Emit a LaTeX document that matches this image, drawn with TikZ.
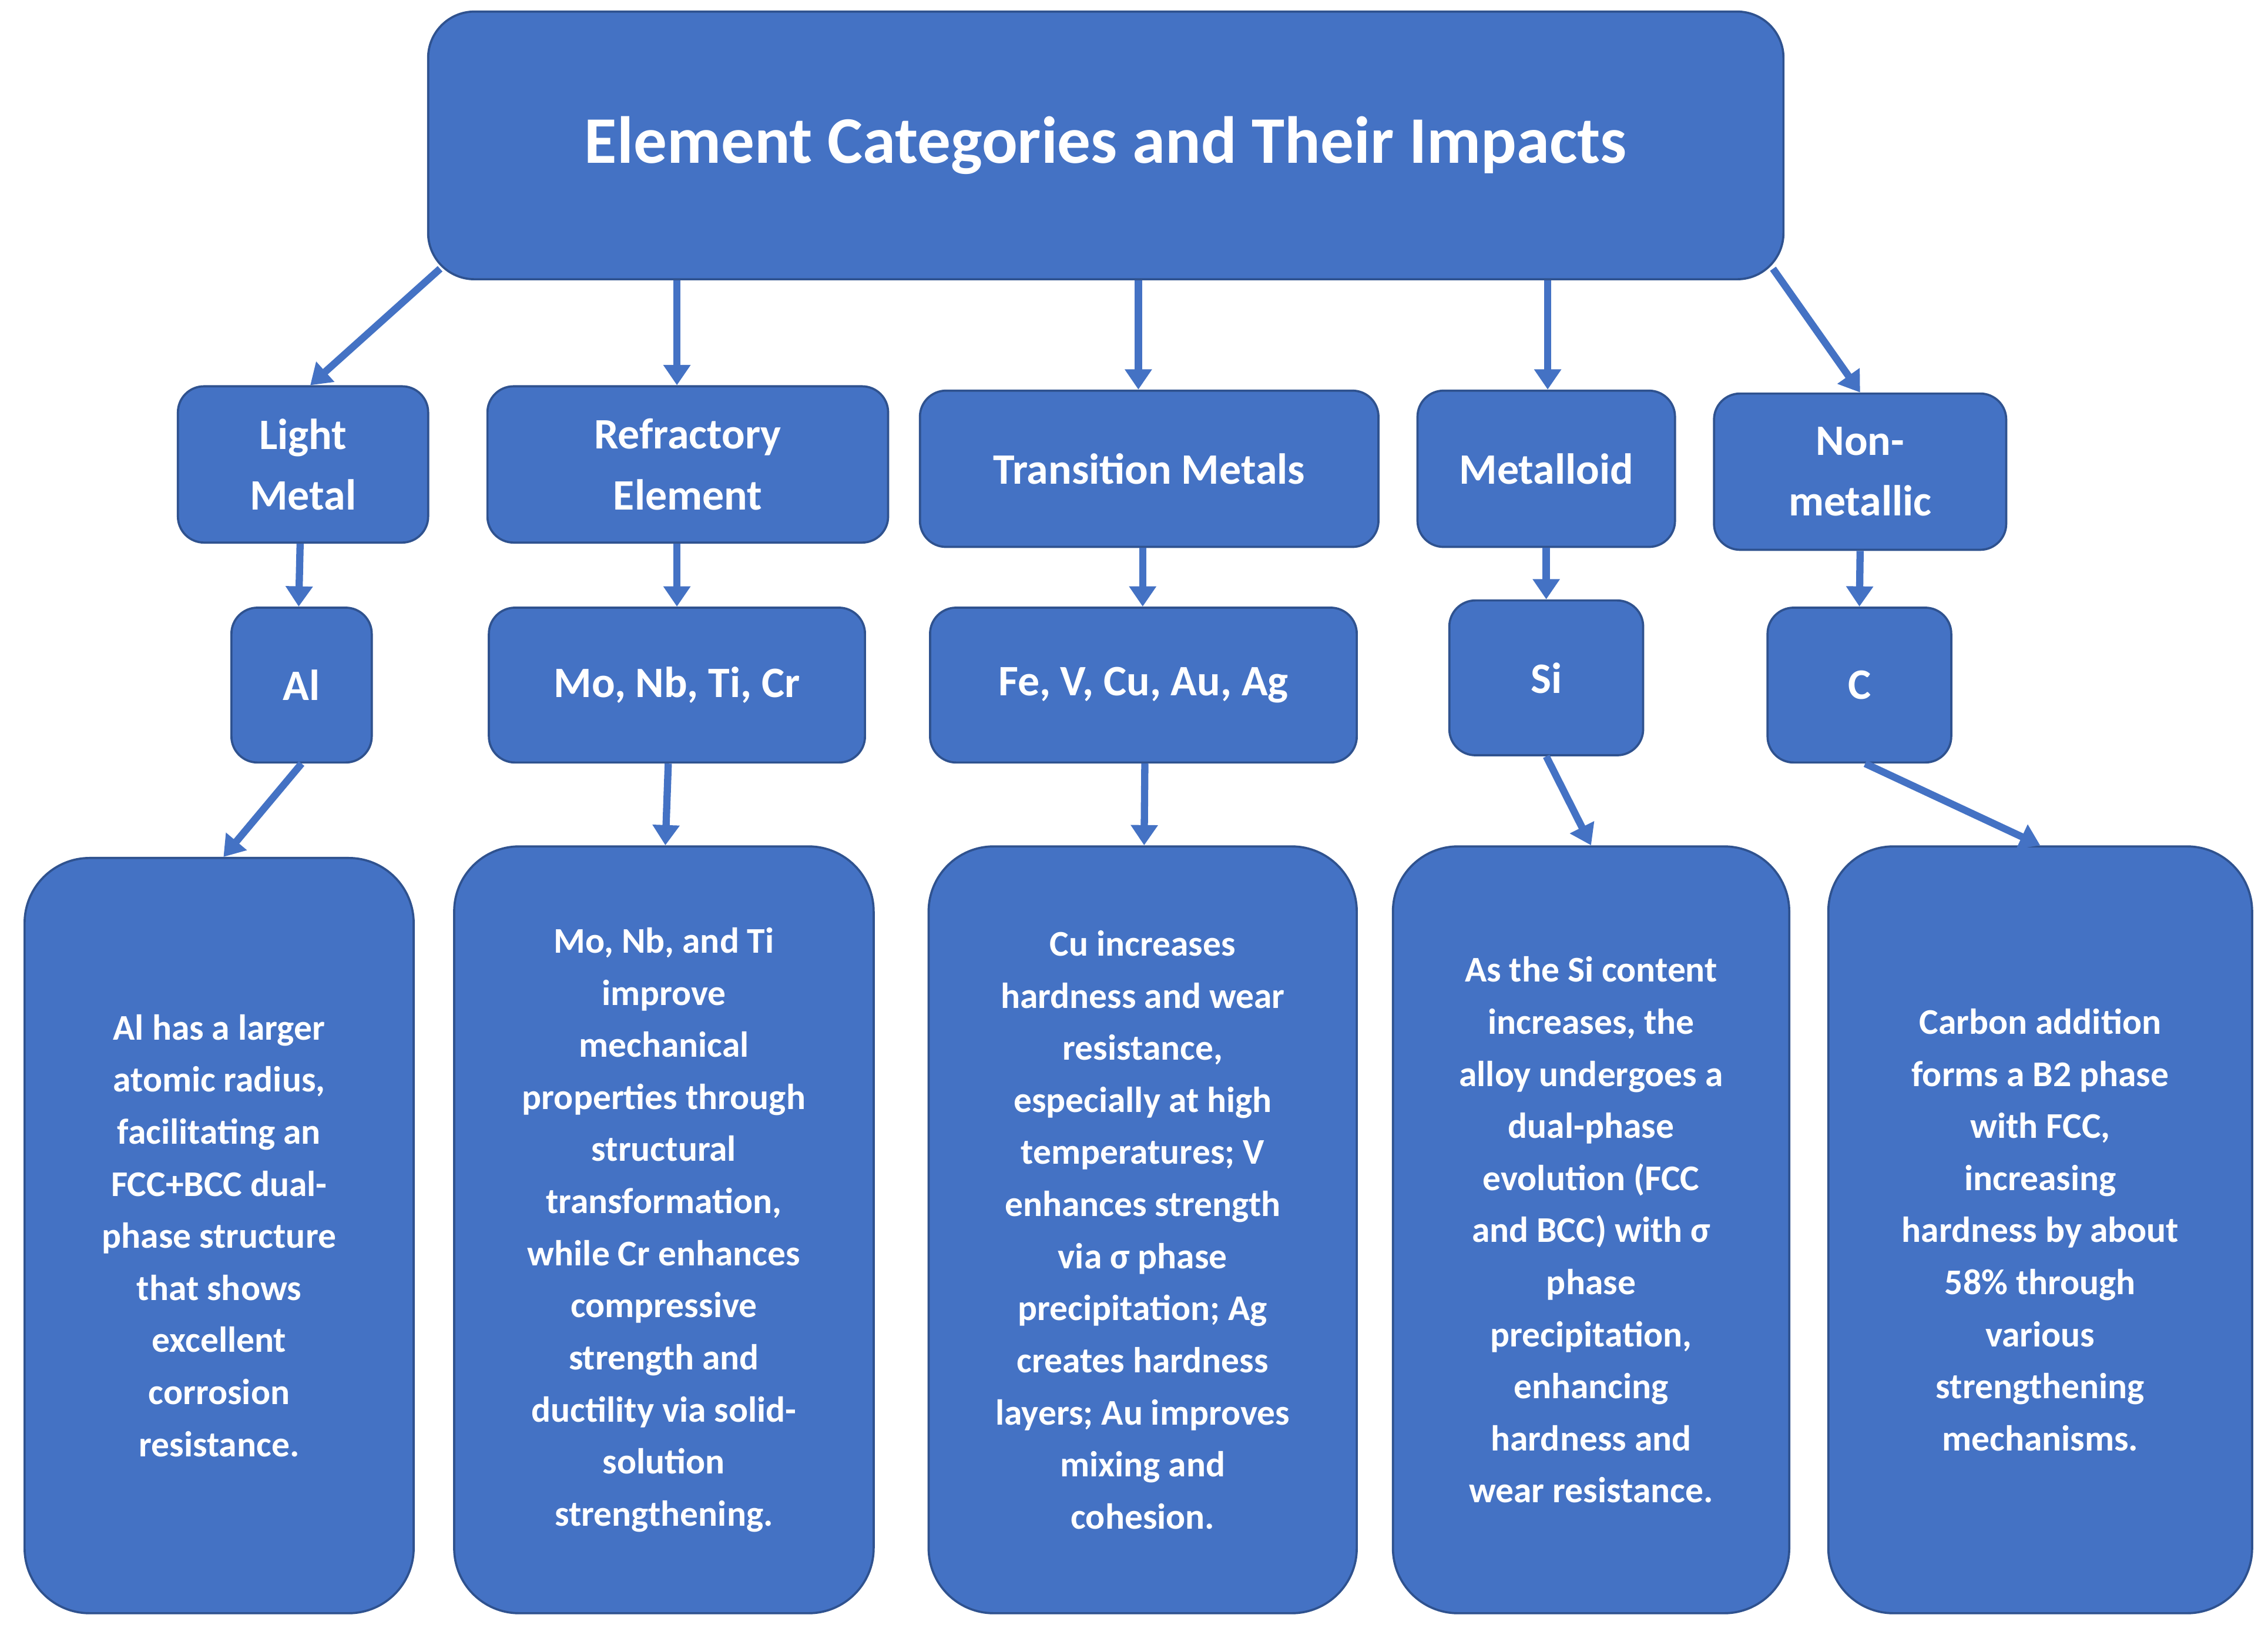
\documentclass[tikz,border=0pt]{standalone}
\usepackage{fontspec}
\setmainfont{Carlito}
\usetikzlibrary{arrows.meta}
\definecolor{bfill}{HTML}{4472C4}
\definecolor{bline}{HTML}{2F528F}
\begin{document}
\begin{tikzpicture}[x=1pt,y=1pt,
 box/.style={draw=bline,line width=1.5pt,fill=bfill,text=white,font=\bfseries,align=center,inner sep=0pt},
 mid/.style={box,rounded corners=18pt,font=\fontsize{30}{42}\selectfont\bfseries},
 low/.style={box,rounded corners=45pt,font=\fontsize{25}{36}\selectfont\bfseries},
 arr/.style={draw=bfill,line width=5pt,-{Triangle[length=14pt,width=18pt]}}]
\useasboundingbox (0,0) rectangle (1568,-1125);
\node[box,rounded corners=32pt,minimum width=937pt,minimum height=185pt,font=\fontsize{46}{52}\selectfont\bfseries] (title) at (764.5,-100.5) {Element Categories and Their Impacts};
\node[mid,minimum width=173pt,minimum height=108pt] (lm) at (209.5,-321) {Light\\Metal};
\node[mid,minimum width=277pt,minimum height=108pt] (re) at (475.5,-321) {Refractory\\Element};
\node[mid,minimum width=317pt,minimum height=108pt] (tm) at (794.5,-324) {Transition Metals};
\node[mid,minimum width=178pt,minimum height=108pt] (me) at (1069,-324) {Metalloid};
\node[mid,minimum width=202pt,minimum height=108pt] (nm) at (1286,-326) {Non-\\metallic};
\node[mid,minimum width=97pt,minimum height=107pt] (al) at (208.5,-473.5) {Al};
\node[mid,minimum width=260pt,minimum height=107pt] (mo) at (468,-473.5) {Mo, Nb, Ti, Cr};
\node[mid,minimum width=295pt,minimum height=107pt] (fe) at (790.5,-473.5) {Fe, V, Cu, Au, Ag};
\node[mid,minimum width=134pt,minimum height=107pt] (si) at (1069,-468.5) {Si};
\node[mid,minimum width=127pt,minimum height=107pt] (c) at (1285.5,-473.5) {C};
\node[low,minimum width=269pt,minimum height=522pt] (b1) at (151.5,-854) {Al has a larger\\atomic radius,\\facilitating an\\FCC+BCC dual-\\phase structure\\that shows\\excellent\\corrosion\\resistance.};
\node[low,minimum width=290pt,minimum height=530pt] (b2) at (459,-850) {Mo, Nb, and Ti\\improve\\mechanical\\properties through\\structural\\transformation,\\while Cr enhances\\compressive\\strength and\\ductility via solid-\\solution\\strengthening.};
\node[low,minimum width=296pt,minimum height=530pt] (b3) at (790,-850) {Cu increases\\hardness and wear\\resistance,\\especially at high\\temperatures; V\\enhances strength\\via σ phase\\precipitation; Ag\\creates hardness\\layers; Au improves\\mixing and\\cohesion.};
\node[low,minimum width=274pt,minimum height=530pt] (b4) at (1100,-850) {As the Si content\\increases, the\\alloy undergoes a\\dual-phase\\evolution (FCC\\and BCC) with σ\\phase\\precipitation,\\enhancing\\hardness and\\wear resistance.};
\node[low,minimum width=293pt,minimum height=530pt] (b5) at (1410.5,-850) {Carbon addition\\forms a B2 phase\\with FCC,\\increasing\\hardness by about\\58\% through\\various\\strengthening\\mechanisms.};
\draw[arr] ([shift={(9,8)}]title.south west) -- ([xshift=5pt]lm.north);
\draw[arr] (title.south -| 468,0) -- (re.north -| 468,0);
\draw[arr] (title.south -| 787,0) -- (tm.north -| 787,0);
\draw[arr] (title.south -| 1070,0) -- (me.north -| 1070,0);
\draw[arr] ([shift={(-8,8)}]title.south east) -- (nm.north);
\draw[arr] ([xshift=-2pt]lm.south) -- ([xshift=-2pt]al.north);
\draw[arr] (re.south -| 468,0) -- (mo.north -| 468,0);
\draw[arr] (tm.south -| 790,0) -- (fe.north -| 790,0);
\draw[arr] (me.south) -- (si.north);
\draw[arr] (nm.south) -- (c.north);
\draw[arr] (al.south) -- ([xshift=3pt]b1.north);
\draw[arr] ([xshift=-6pt]mo.south) -- ([xshift=1pt]b2.north);
\draw[arr] ([xshift=1pt]fe.south) -- ([xshift=1pt]b3.north);
\draw[arr] (si.south) -- (b4.north);
\draw[arr] ([xshift=4pt]c.south) -- (b5.north);
\end{tikzpicture}
\end{document}
